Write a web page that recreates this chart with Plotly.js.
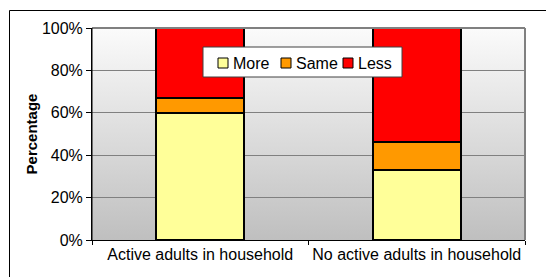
<!DOCTYPE html>
<html>
<head>
<meta charset="utf-8">
<script src="https://cdn.plot.ly/plotly-3.0.1.min.js"></script>
<style>html,body{margin:0;padding:0;background:#fff;}#chart{width:546px;height:277px;}</style>
</head>
<body>
<div id="chart"></div>
<script>
const categories = ["Active adults in household", "No active adults in household"];
const moreVals = [60, 33];
const sameVals = [7, 13];
const lessVals = [33, 54];
const seriesNames = ["More", "Same", "Less"];
const seriesColors = ["#FFFF99", "#FF9900", "#FF0000"];
const yTicks = [0, 20, 40, 60, 80, 100];

const seriesVals = [moreVals, sameVals, lessVals];
const traces = seriesVals.map((v, i) => ({
  type: "bar",
  name: seriesNames[i],
  x: categories,
  y: v,
  marker: { color: seriesColors[i], line: { color: "#000000", width: 2 } },
  showlegend: false,
  hoverinfo: "skip"
}));

const W = 546, H = 277;
const M = { l: 92, r: 21, t: 28, b: 37 };
const PW = W - M.l - M.r, PH = H - M.t - M.b;
const px = x => (x - M.l) / PW;
const py = y => (H - M.b - y) / PH;

const gradSvg = '<svg xmlns="http://www.w3.org/2000/svg" width="10" height="100" preserveAspectRatio="none"><defs><linearGradient id="g" x1="0" y1="0" x2="0" y2="1"><stop offset="0" stop-color="#fbfbfb"/><stop offset="1" stop-color="#bfbfbf"/></linearGradient></defs><rect width="10" height="100" fill="url(#g)"/></svg>';
const gradUri = "data:image/svg+xml;base64," + btoa(gradSvg);

const FAM = "Liberation Sans, Arial, sans-serif";
const font = { family: FAM, size: 16, color: "#000" };

// Legend (drawn as a box with swatches and labels taken from the series arrays)
const legendBox = { x0: 203, x1: 402, y0: 47, y1: 77 };
const legendStarts = [218, 281, 343];
const shapes = [
  { type: "line", xref: "paper", yref: "paper", x0: 1, x1: 1, y0: 0, y1: 1, line: { color: "#808080", width: 2 } },
  { type: "line", xref: "paper", yref: "paper", x0: 0, x1: 1, y0: 1, y1: 1, line: { color: "#808080", width: 2 } },
  { type: "line", xref: "paper", yref: "paper", x0: 0, x1: 0, y0: 0, y1: 1, line: { color: "#000", width: 1 }, layer: "above" },
  { type: "rect", xref: "paper", yref: "paper", x0: px(9.5), x1: 1.6, y0: -1, y1: py(10.5), line: { color: "#000", width: 1 }, fillcolor: "rgba(0,0,0,0)" },
  { type: "rect", xref: "paper", yref: "paper", x0: px(legendBox.x0), x1: px(legendBox.x1), y0: py(legendBox.y1), y1: py(legendBox.y0),
    line: { color: "#404040", width: 1 }, fillcolor: "#ffffff", layer: "above" }
];
const annotations = [];
seriesNames.forEach((n, i) => {
  const sx = legendStarts[i];
  shapes.push({ type: "rect", xref: "paper", yref: "paper", x0: px(sx), x1: px(sx + 10), y0: py(68), y1: py(58),
    line: { color: "#000", width: 1 }, fillcolor: seriesColors[i], layer: "above" });
  annotations.push({ xref: "paper", yref: "paper", x: px(sx + 13), y: py(63), xanchor: "left", yanchor: "middle",
    text: n, showarrow: false, font: font });
});

const layout = {
  width: W,
  height: H,
  margin: M,
  paper_bgcolor: "#ffffff",
  plot_bgcolor: "rgba(0,0,0,0)",
  font: font,
  barmode: "stack",
  bargap: 0.595,
  showlegend: false,
  xaxis: {
    type: "category",
    showgrid: false,
    showline: true,
    linecolor: "#000",
    linewidth: 1,
    ticks: "outside",
    tickson: "boundaries",
    ticklen: 4,
    tickcolor: "#000",
    tickfont: font,
    tickangle: 0,
    zeroline: false,
    fixedrange: true
  },
  yaxis: {
    range: [0, 100],
    tickvals: yTicks,
    ticktext: yTicks.map(t => t + "%"),
    showgrid: true,
    gridcolor: "#808080",
    gridwidth: 1,
    showline: true,
    linecolor: "#000",
    linewidth: 1,
    ticks: "outside",
    ticklen: 5,
    tickcolor: "#000",
    tickfont: font,
    zeroline: false,
    title: { text: "Percentage", font: { family: FAM, size: 15, color: "#000", weight: "bold" }, standoff: 0 },
    fixedrange: true
  },
  images: [{
    source: gradUri,
    xref: "paper", yref: "paper",
    x: 0, y: 1, sizex: 1, sizey: 1,
    xanchor: "left", yanchor: "top",
    sizing: "stretch",
    layer: "below"
  }],
  shapes: shapes,
  annotations: annotations
};

Plotly.newPlot("chart", traces, layout, { displayModeBar: false, staticPlot: true });
</script>
</body>
</html>
